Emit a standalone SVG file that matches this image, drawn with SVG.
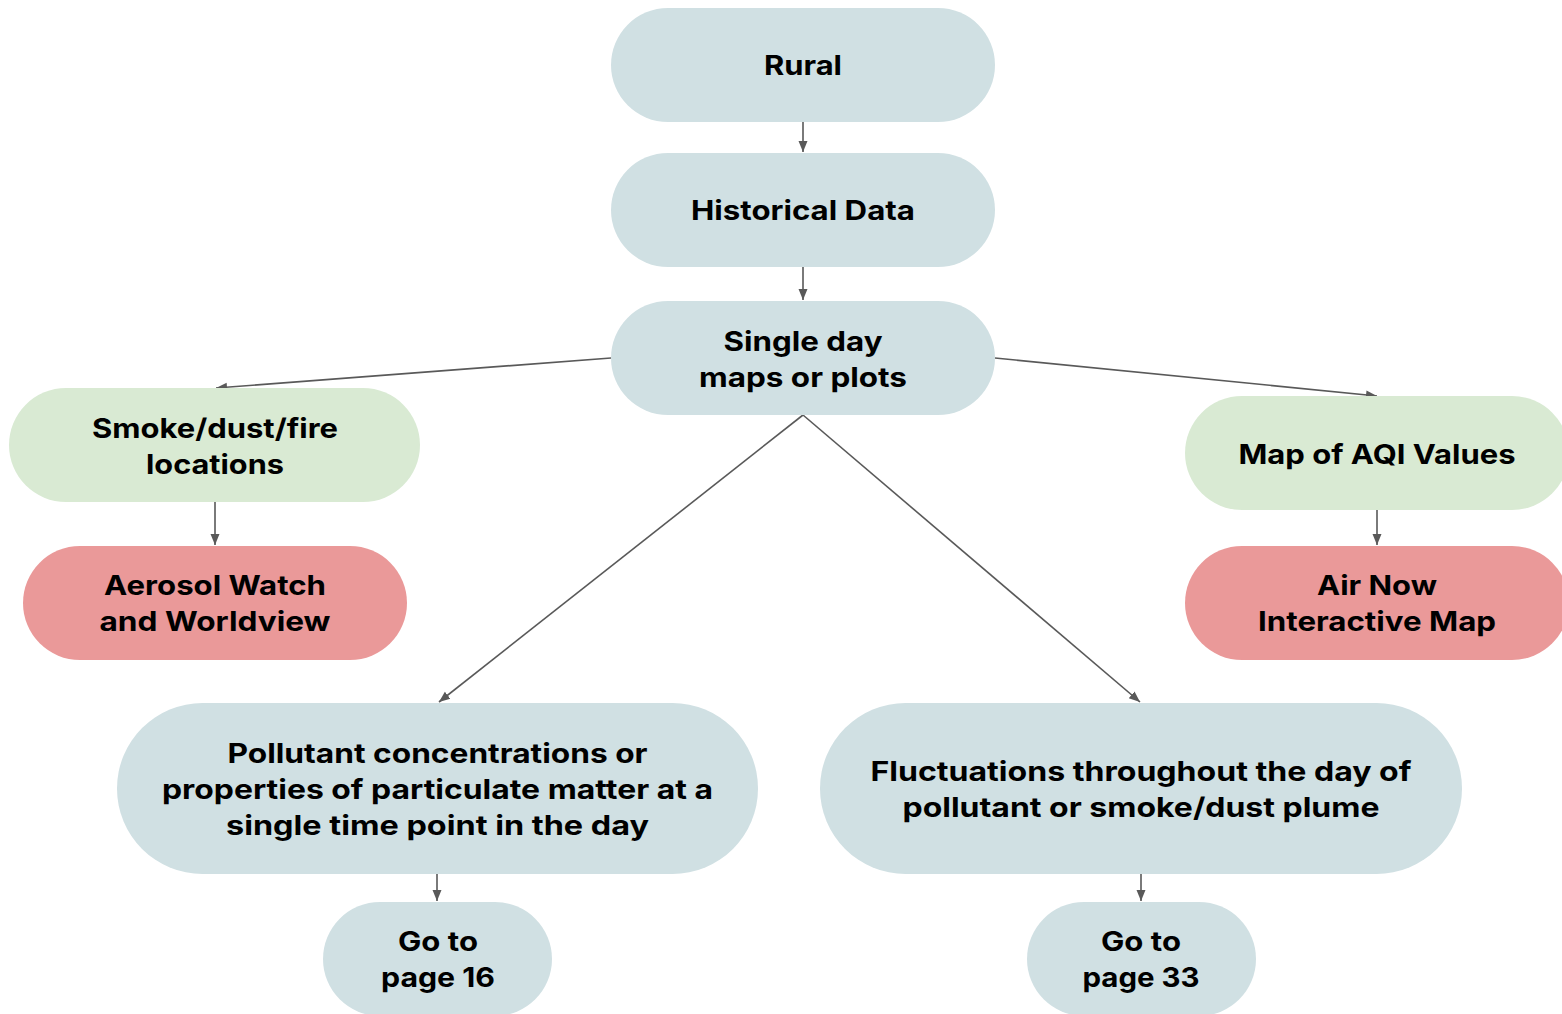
<svg xmlns="http://www.w3.org/2000/svg" width="1562" height="1014" viewBox="0 0 1562 1014">
  <style>
    .blue { fill: #d0e0e3; }
    .green { fill: #d9ead3; }
    .red { fill: #ea9999; }
    .label { font-family: Inter, "Open Sans", "Liberation Sans", sans-serif; font-weight: 700; font-size: 27px; fill: #000000; text-anchor: middle; }
    .edge { stroke: #595959; stroke-width: 1.6; fill: none; marker-end: url(#arrow); }
  </style>
  <defs>
    <marker id="arrow" markerUnits="userSpaceOnUse" markerWidth="12" markerHeight="12" viewBox="0 0 12 12" refX="11" refY="6" orient="auto">
      <path d="M0,1.5 L11,6 L0,10.5 Z" fill="#595959"/>
    </marker>
  </defs>
  <rect width="1562" height="1014" fill="#ffffff"/>

  <g id="connectors">
    <line class="edge" x1="803" y1="122" x2="803" y2="152"/>
    <line class="edge" x1="803" y1="267" x2="803" y2="300"/>
    <line class="edge" x1="611" y1="358" x2="216" y2="388"/>
    <line class="edge" x1="995" y1="358" x2="1377" y2="396"/>
    <line class="edge" x1="803" y1="415" x2="439" y2="702"/>
    <line class="edge" x1="803" y1="415" x2="1140" y2="702"/>
    <line class="edge" x1="215" y1="502" x2="215" y2="545"/>
    <line class="edge" x1="1377" y1="510" x2="1377" y2="545"/>
    <line class="edge" x1="437" y1="874" x2="437" y2="901"/>
    <line class="edge" x1="1141" y1="874" x2="1141" y2="901"/>
  </g>

  <g id="node-rural">
    <rect class="blue" x="611" y="8" width="384" height="114" rx="57"/>
    <text class="label" x="803" y="75" textLength="78" lengthAdjust="spacingAndGlyphs">Rural</text>
  </g>

  <g id="node-historical">
    <rect class="blue" x="611" y="153" width="384" height="114" rx="57"/>
    <text class="label" x="803" y="220" textLength="224" lengthAdjust="spacingAndGlyphs">Historical Data</text>
  </g>

  <g id="node-single-day">
    <rect class="blue" x="611" y="301" width="384" height="114" rx="57"/>
    <text class="label" x="803" y="351" textLength="159" lengthAdjust="spacingAndGlyphs">Single day</text>
    <text class="label" x="803" y="387" textLength="208" lengthAdjust="spacingAndGlyphs">maps or plots</text>
  </g>

  <g id="node-smoke">
    <rect class="green" x="9" y="388" width="411" height="114" rx="57"/>
    <text class="label" x="215" y="438" textLength="246" lengthAdjust="spacingAndGlyphs">Smoke/dust/fire</text>
    <text class="label" x="215" y="474" textLength="138" lengthAdjust="spacingAndGlyphs">locations</text>
  </g>

  <g id="node-aerosol">
    <rect class="red" x="23" y="546" width="384" height="114" rx="57"/>
    <text class="label" x="215" y="595" textLength="222" lengthAdjust="spacingAndGlyphs">Aerosol Watch</text>
    <text class="label" x="215" y="631" textLength="231" lengthAdjust="spacingAndGlyphs">and Worldview</text>
  </g>

  <g id="node-aqi-map">
    <rect class="green" x="1185" y="396" width="384" height="114" rx="57"/>
    <text class="label" x="1377" y="464" textLength="277" lengthAdjust="spacingAndGlyphs">Map of AQI Values</text>
  </g>

  <g id="node-airnow">
    <rect class="red" x="1185" y="546" width="384" height="114" rx="57"/>
    <text class="label" x="1377" y="595" textLength="120" lengthAdjust="spacingAndGlyphs">Air Now</text>
    <text class="label" x="1377" y="631" textLength="238" lengthAdjust="spacingAndGlyphs">Interactive Map</text>
  </g>

  <g id="node-pollutant">
    <rect class="blue" x="117" y="703" width="641" height="171" rx="85.5"/>
    <text class="label" x="437.5" y="763" textLength="420" lengthAdjust="spacingAndGlyphs">Pollutant concentrations or</text>
    <text class="label" x="437.5" y="799" textLength="551" lengthAdjust="spacingAndGlyphs">properties of particulate matter at a</text>
    <text class="label" x="437.5" y="835" textLength="423" lengthAdjust="spacingAndGlyphs">single time point in the day</text>
  </g>

  <g id="node-fluctuations">
    <rect class="blue" x="820" y="703" width="642" height="171" rx="85.5"/>
    <text class="label" x="1141" y="781" textLength="541" lengthAdjust="spacingAndGlyphs">Fluctuations throughout the day of</text>
    <text class="label" x="1141" y="817" textLength="477" lengthAdjust="spacingAndGlyphs">pollutant or smoke/dust plume</text>
  </g>

  <g id="node-page16">
    <rect class="blue" x="323" y="902" width="229" height="114" rx="57"/>
    <text class="label" x="438" y="951" textLength="80" lengthAdjust="spacingAndGlyphs">Go to</text>
    <text class="label" x="438" y="987" textLength="114" lengthAdjust="spacingAndGlyphs">page 16</text>
  </g>

  <g id="node-page33">
    <rect class="blue" x="1027" y="902" width="229" height="114" rx="57"/>
    <text class="label" x="1141" y="951" textLength="80" lengthAdjust="spacingAndGlyphs">Go to</text>
    <text class="label" x="1141" y="987" textLength="117" lengthAdjust="spacingAndGlyphs">page 33</text>
  </g>
</svg>
